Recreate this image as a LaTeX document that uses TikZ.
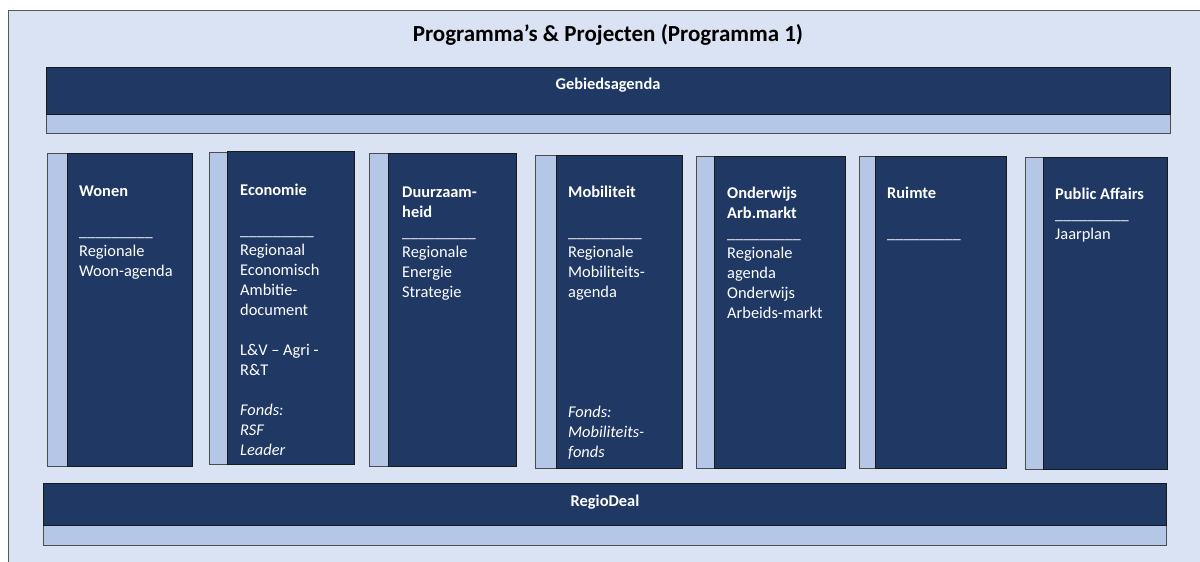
\documentclass[tikz,border=0pt]{standalone}
\usepackage{fontspec}
\setmainfont{Carlito}
\usepackage{tikz}
\usetikzlibrary{positioning}

\definecolor{frameblue}{HTML}{DAE3F3}
\definecolor{panelblue}{HTML}{1F3864}
\definecolor{stripblue}{HTML}{B4C7E7}

\newcommand{\streep}{\_\_\_\_\_\_\_\_\_}

\begin{document}
\begin{tikzpicture}[x=1pt, y=-1pt,
        panel/.style={fill=panelblue, draw=black!90, line width=0.8pt},
        strip/.style={fill=stripblue, draw=black!70, line width=0.7pt},
        coltext/.style={anchor=base west, inner sep=0pt, text=white, text width=118pt, align=flush left,
                        font=\fontsize{16.4}{20}\selectfont},
        bartext/.style={anchor=base, inner sep=0pt, text=white, font=\fontsize{16.4}{20}\selectfont\bfseries}]
        \useasboundingbox (0, 0) rectangle (1200, 562);
        \begin{scope}
            \clip (0, 0) rectangle (1200, 562);
            \draw[fill=frameblue, draw=black!65, line width=0.9pt] (8, 10) rectangle (1220, 580);
        \end{scope}

        \node[anchor=base, inner sep=0pt, font=\fontsize{23}{28}\selectfont\bfseries] at (608, 41) (title) {Programma’s \& Projecten (Programma 1)};

        % Gebiedsagenda
        \draw[strip] (46, 114) rectangle (1170, 133);
        \draw[panel] (46, 67) rectangle (1170, 114);
        \node[bartext] at (608, 89) (gebied) {Gebiedsagenda};

        % kolommen
        \draw[strip] (47, 153) rectangle (67, 466);
        \draw[panel] (67, 153) rectangle (192, 466);
        \node[coltext] at (79, 196) (wonen) {\textbf{Wonen}\\[20pt]\streep\\Regionale\\Woon-agenda};

        \draw[strip] (209, 152) rectangle (227, 464);
        \draw[panel] (227, 151) rectangle (354, 464);
        \node[coltext] at (240, 195) (economie) {\textbf{Economie}\\[20pt]\streep\\Regionaal\\Economisch\\Ambitie-\\document\\[20pt]L\&V – Agri -\\R\&T\\[20pt]\textit{Fonds:}\\\textit{RSF}\\\textit{Leader}};

        \draw[strip] (369, 153) rectangle (388, 466);
        \draw[panel] (388, 153) rectangle (516, 466);
        \node[coltext] at (402, 197) (duurzaam) {\textbf{Duurzaam-}\\\textbf{heid}\\\streep\\Regionale\\Energie\\Strategie};

        \draw[strip] (535, 155) rectangle (556, 468);
        \draw[panel] (556, 155) rectangle (682, 468);
        \node[coltext] at (568, 197) (mobiliteit) {\textbf{Mobiliteit}\\[20pt]\streep\\Regionale\\Mobiliteits-\\agenda\\[100pt]\textit{Fonds:}\\\textit{Mobiliteits-}\\\textit{fonds}};

        \draw[strip] (696, 156) rectangle (714, 468);
        \draw[panel] (714, 156) rectangle (845, 468);
        \node[coltext] at (727, 198) (onderwijs) {\textbf{Onderwijs}\\\textbf{Arb.markt}\\\streep\\Regionale\\agenda\\Onderwijs\\Arbeids-markt};

        \draw[strip] (859, 156) rectangle (875, 468);
        \draw[panel] (875, 156) rectangle (1006, 468);
        \node[coltext] at (887, 198) (ruimte) {\textbf{Ruimte}\\[20pt]\streep};

        \draw[strip] (1025, 157) rectangle (1043, 469);
        \draw[panel] (1043, 157) rectangle (1167, 469);
        \node[coltext] at (1055, 199) (publicaffairs) {\textbf{Public Affairs}\\\streep\\Jaarplan};

        % RegioDeal
        \draw[strip] (43, 525) rectangle (1166, 545);
        \draw[panel] (43, 483) rectangle (1166, 525);
        \node[bartext] at (605, 506) (regiodeal) {RegioDeal};
    \end{tikzpicture}
\end{document}
